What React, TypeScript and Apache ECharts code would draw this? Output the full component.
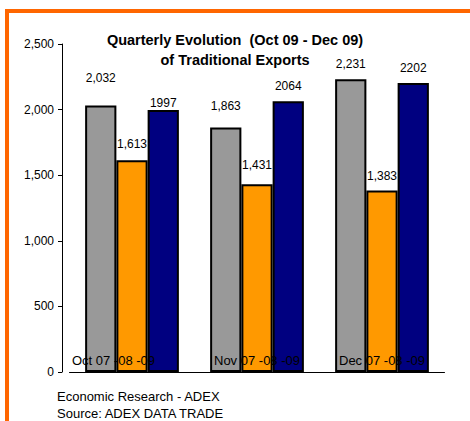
import React, { useEffect, useRef } from "react";
import * as echarts from "echarts";

const categories = ["Oct 07 -08 -09", "Nov 07 -08 -09", "Dec 07 -08 -09"];
const series2007 = [2032, 1863, 2231];
const series2008 = [1613, 1431, 1383];
const series2009 = [1997, 2064, 2202];
const yTicks = [0, 500, 1000, 1500, 2000, 2500];

// label distance above each bar (styling only)
const lift2007 = [21, 16, 9];
const lift2008 = [10, 13, 9];
const lift2009 = [1, 9, 9];

const FONT = "Liberation Sans, Arial, sans-serif";
const comma = (v: number) => v.toLocaleString("en-US");

export default function App() {
  const ref = useRef<HTMLDivElement>(null);
  useEffect(() => {
    if (!ref.current) return;
    const chart = echarts.init(ref.current, undefined, { renderer: "svg" });
    const labelBase = {
      show: true,
      position: "top" as const,
      fontSize: 12,
      color: "#000",
      fontFamily: FONT,
    };
    const mk = (
      name: string,
      values: number[],
      lifts: number[],
      color: string,
      fmt: (v: number) => string
    ) => ({
      type: "bar" as const,
      name,
      barGap: "0%",
      barCategoryGap: "25%",
      itemStyle: { borderColor: "#000", borderWidth: 2, color },
      label: { ...labelBase, formatter: (p: any) => fmt(p.value) },
      data: values.map((v, i) => ({ value: v, label: { distance: lifts[i] } })),
    });
    chart.setOption({
      animation: false,
      backgroundColor: "#fff",
      textStyle: { fontFamily: FONT },
      title: [
        {
          text: "Quarterly Evolution  (Oct 09 - Dec 09)\nof Traditional Exports",
          left: 235,
          top: 30,
          padding: 0,
          textAlign: "center",
          textStyle: {
            fontFamily: FONT,
            fontSize: 14.5,
            fontWeight: "bold",
            color: "#000",
            lineHeight: 20,
            align: "center",
          },
        },
        {
          text: "Economic Research - ADEX\nSource: ADEX DATA TRADE",
          left: 57,
          top: 388,
          padding: 0,
          textStyle: {
            fontFamily: FONT,
            fontSize: 13,
            fontWeight: "normal",
            color: "#000",
            lineHeight: 17,
          },
        },
      ],
      graphic: [
        { type: "rect", shape: { x: 5, y: 9, width: 465, height: 4 }, style: { fill: "#FF6600" } },
        { type: "rect", shape: { x: 5, y: 9, width: 4, height: 412 }, style: { fill: "#FF6600" } },
      ],
      grid: { left: 69.5, top: 44, width: 375, height: 328 },
      xAxis: {
        type: "category",
        data: categories.map((c, i) =>
          i === 0 ? { value: c, textStyle: { padding: [0, 37, 0, 0] } } : c
        ),
        z: 10,
        axisLine: { show: true, lineStyle: { color: "#000", width: 1 } },
        axisTick: { show: false },
        axisLabel: {
          inside: true,
          margin: 5,
          fontSize: 13,
          color: "#000",
          fontFamily: FONT,
        },
      },
      yAxis: {
        type: "value",
        min: yTicks[0],
        max: yTicks[yTicks.length - 1],
        interval: 500,
        offset: 7.5,
        splitLine: { show: false },
        axisLine: { show: true, lineStyle: { color: "#000", width: 1 } },
        axisTick: { show: true, length: 4, lineStyle: { color: "#000" } },
        axisLabel: {
          margin: 8,
          fontSize: 12,
          color: "#000",
          fontFamily: FONT,
          formatter: (v: number) => comma(v),
        },
      },
      series: [
        mk("2007", series2007, lift2007, "#999999", comma),
        mk("2008", series2008, lift2008, "#FF9900", comma),
        mk("2009", series2009, lift2009, "#000080", (v) => String(v)),
      ],
    });
    return () => chart.dispose();
  }, []);
  return (
    <div
      ref={ref}
      style={{ position: "absolute", left: 0, top: 0, width: 470, height: 421 }}
    />
  );
}
